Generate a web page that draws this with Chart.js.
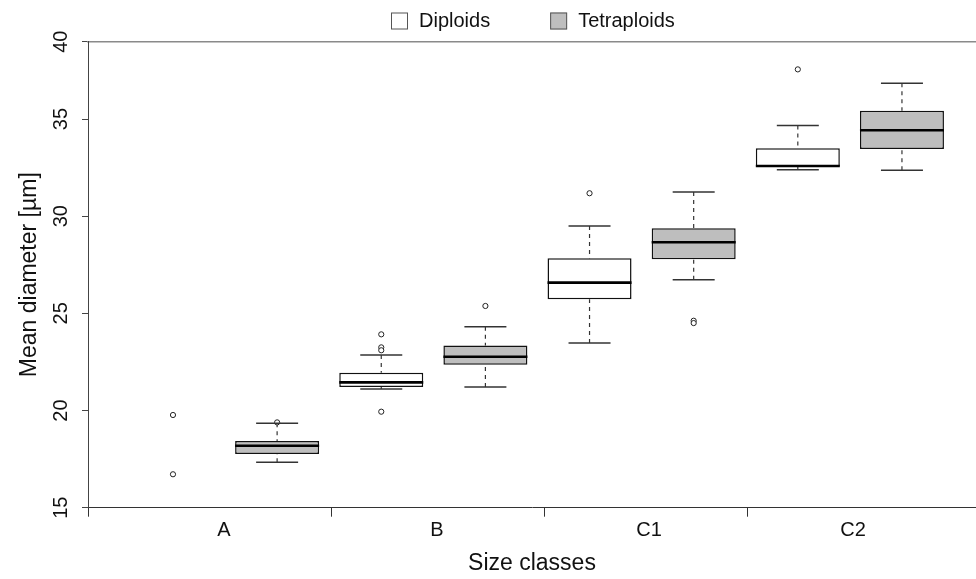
<!DOCTYPE html>
<html>
<head>
<meta charset="utf-8">
<script src="https://cdn.jsdelivr.net/npm/chart.js@4.4.0/dist/chart.umd.min.js"></script>
<style>
  body { margin: 0; background: #fff; }
  canvas { display: block; }
</style>
</head>
<body>
<canvas id="chart" width="976" height="579"></canvas>
<script>
const groups = ['A', 'B', 'C1', 'C2'];
const seriesNames = ['Diploids', 'Tetraploids'];
const seriesFills = ['#ffffff', '#bebebe'];

// [lower whisker, Q1, median, Q3, upper whisker]; null where no box is drawn
const diploidStats = [
  null,
  [21.11, 21.21, 21.45, 21.95, 22.86],
  [23.47, 25.72, 26.58, 27.83, 29.49],
  [32.39, 32.55, 32.58, 33.49, 34.66]
];
const tetraploidStats = [
  [17.34, 17.76, 18.19, 18.43, 19.34],
  [21.21, 22.36, 22.77, 23.34, 24.31],
  [26.73, 27.78, 28.66, 29.38, 31.24],
  [32.36, 33.46, 34.42, 35.54, 37.31]
];
// single points drawn as circles
const diploidPoints = [[19.77, 16.72], [23.92, 23.25, 23.1, 19.94], [31.18], [38.21]];
const tetraploidPoints = [[19.39], [25.38], [24.62, 24.5], []];

const yTicks = [15, 20, 25, 30, 35, 40];
// box k of group g sits at x = 2g + k + 1
const labelPositions = [1.49, 3.535, 5.571, 7.53];
const tickBreaks = [0.184, 2.527, 4.572, 6.521];

const FONT = "'Liberation Sans', Arial, sans-serif";
Chart.defaults.font.family = FONT;
Chart.defaults.color = '#111';

// the y axis of the figure is squeezed above 35, so map it in two linear pieces
class SqueezedScale extends Chart.LinearScale {
  valueToDecimal(value) {
    const { min, max } = this;
    const { at, fraction } = this.options.squeeze;
    if (value <= at) return (value - min) / (at - min) * fraction;
    return fraction + (value - at) / (max - at) * (1 - fraction);
  }
  getPixelForValue(value) {
    if (value === null || isNaN(value)) return NaN;
    return this.getPixelForDecimal(this.valueToDecimal(value));
  }
  getValueForPixel(pixel) {
    const { min, max } = this;
    const { at, fraction } = this.options.squeeze;
    const d = this.getDecimalForPixel(pixel);
    if (d <= fraction) return min + d / fraction * (at - min);
    return at + (d - fraction) / (1 - fraction) * (max - at);
  }
}
SqueezedScale.id = 'squeezed';
SqueezedScale.defaults = Chart.LinearScale.defaults;
Chart.register(SqueezedScale);

const boxX = (g, k) => 2 * g + k + 1;
const allStats = [diploidStats, tetraploidStats];
const allPoints = [diploidPoints, tetraploidPoints];

const boxData = allStats.map((stats, k) =>
  stats.map((s, g) => s && { x: boxX(g, k), y: [s[1], s[3]] }).filter(Boolean));

const medians = [], caps = [], whiskers = [], outliers = [];
allStats.forEach((stats, k) => stats.forEach((s, g) => {
  if (!s) return;
  const x = boxX(g, k);
  medians.push({ x, y: s[2] });
  caps.push({ x, y: s[0] }, { x, y: s[4] });
  whiskers.push({ x, y: s[0] }, { x, y: s[1] }, { x, y: null },
                { x, y: s[4] }, { x, y: s[3] }, { x, y: null });
}));
allPoints.forEach((pts, k) => pts.forEach((list, g) =>
  list.forEach(y => outliers.push({ x: boxX(g, k), y }))));

const boxDatasets = boxData.map((data, k) => ({
  type: 'bar',
  label: seriesNames[k],
  data,
  backgroundColor: seriesFills[k],
  borderColor: '#111',
  borderWidth: 1.5,
  borderSkipped: false,
  inflateAmount: 0,
  barThickness: 84,
  grouped: false,
  order: 2
}));

const rotatedYLabels = {
  id: 'rotatedYLabels',
  afterDraw(chart) {
    const scale = chart.scales.y;
    const ctx = chart.ctx;
    ctx.save();
    ctx.fillStyle = '#111';
    ctx.font = '20px ' + FONT;
    ctx.textAlign = 'center';
    ctx.textBaseline = 'alphabetic';
    scale.ticks.forEach(t => {
      ctx.save();
      ctx.translate(67, scale.getPixelForValue(t.value));
      ctx.rotate(-Math.PI / 2);
      ctx.fillText(String(t.value), 0, 0);
      ctx.restore();
    });
    ctx.restore();
  }
};

const boxLegend = {
  id: 'boxLegend',
  afterDraw(chart) {
    const ctx = chart.ctx;
    ctx.save();
    ctx.font = '20px ' + FONT;
    ctx.textBaseline = 'middle';
    let x = 391;
    const y = 21;
    chart.data.datasets.filter(d => d.type === 'bar').forEach(ds => {
      ctx.fillStyle = ds.backgroundColor;
      ctx.fillRect(x, y - 8.5, 17, 17);
      ctx.strokeStyle = '#555';
      ctx.lineWidth = 1;
      ctx.strokeRect(x + 0.5, y - 8, 16, 16);
      ctx.fillStyle = '#111';
      ctx.fillText(ds.label, x + 28, y);
      x += 28 + ctx.measureText(ds.label).width + 60;
    });
    ctx.restore();
  }
};

new Chart(document.getElementById('chart'), {
  type: 'bar',
  data: {
    datasets: [
      {
        type: 'scatter', label: 'median', data: medians,
        pointStyle: 'line', pointRadius: 42, pointBorderWidth: 2.6,
        pointBorderColor: '#000', order: 0
      },
      ...boxDatasets,
      {
        type: 'scatter', label: 'caps', data: caps,
        pointStyle: 'line', pointRadius: 21, pointBorderWidth: 1.5,
        pointBorderColor: '#333', order: 1
      },
      {
        type: 'line', label: 'whiskers', data: whiskers,
        borderColor: '#333', borderWidth: 1.2, borderDash: [4, 4],
        pointRadius: 0, spanGaps: false, fill: false, order: 3
      },
      {
        type: 'scatter', label: 'outliers', data: outliers,
        pointStyle: 'circle', pointRadius: 2.6, pointBorderWidth: 1,
        pointBorderColor: '#222', pointBackgroundColor: '#fff', order: 1
      }
    ]
  },
  options: {
    responsive: false,
    animation: false,
    events: [],
    layout: { autoPadding: false, padding: { top: 41.7, left: 0, right: 0, bottom: 0 } },
    plugins: { legend: { display: false }, tooltip: { enabled: false } },
    scales: {
      x: {
        type: 'linear', min: 0.184, max: 8.711, offset: false,
        afterFit: s => { s.height = 71.3; },
        afterBuildTicks: s => {
          s.ticks = [...tickBreaks, ...labelPositions].sort((a, b) => a - b).map(value => ({ value }));
        },
        grid: {
          offset: false, drawOnChartArea: false, tickLength: 9,
          tickColor: c => (c.tick && labelPositions.includes(c.tick.value)) ? 'rgba(0,0,0,0)' : '#333'
        },
        border: { color: '#333', width: 1 },
        ticks: {
          autoSkip: false, maxRotation: 0, padding: 2, font: { size: 20 },
          callback: v => { const i = labelPositions.indexOf(v); return i < 0 ? '' : groups[i]; }
        },
        title: { display: true, text: 'Size classes', font: { size: 23 }, padding: { top: 0, bottom: 2 } }
      },
      xTop: {
        type: 'linear', position: 'top',
        afterFit: s => { s.height = 0; },
        grid: { display: false },
        ticks: { display: false },
        border: { color: '#8a8a8a', width: 1.5 }
      },
      y: {
        type: 'squeezed', min: 15, max: 40,
        squeeze: { at: 35, fraction: 0.8341 },
        afterBuildTicks: s => { s.ticks = yTicks.map(value => ({ value })); },
        afterFit: s => { s.width = 88; },
        grid: { drawOnChartArea: false, tickLength: 6, tickColor: '#444' },
        border: { color: '#444', width: 1 },
        ticks: { display: false },
        title: { display: true, text: 'Mean diameter [µm]', font: { size: 23 }, padding: { top: 16 } }
      }
    }
  },
  plugins: [rotatedYLabels, boxLegend]
});
</script>
</body>
</html>
